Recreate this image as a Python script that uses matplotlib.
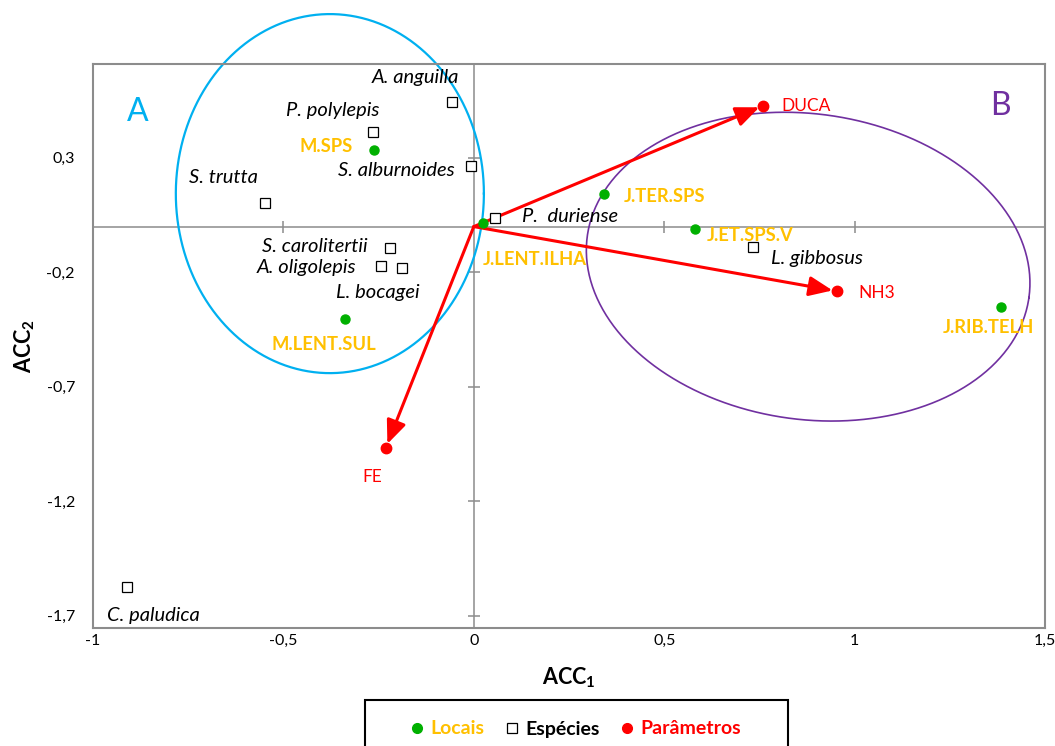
import numpy as np
import matplotlib
matplotlib.use("Agg")
import matplotlib.pyplot as plt
from matplotlib.lines import Line2D
from matplotlib.patches import Rectangle

plt.rcParams['font.family'] = ['Lato', 'DejaVu Sans']
plt.rcParams['mathtext.fontset'] = 'custom'
plt.rcParams['mathtext.bf'] = 'Lato:bold'
plt.rcParams['mathtext.rm'] = 'Lato'

# ---- data -------------------------------------------------------------
species = ['A. anguilla', 'P. polylepis', 'S. alburnoides', 'S. trutta',
           'S. carolitertii', 'A. oligolepis', 'L. bocagei', 'P.  duriense',
           'L. gibbosus', 'C. paludica']
species_x = [-0.058, -0.264, -0.008, -0.548, -0.220, -0.244, -0.188, 0.056, 0.734, -0.911]
species_y = [0.543, 0.414, 0.264, 0.101, -0.095, -0.172, -0.183, 0.036, -0.091, -1.573]

sites = ['M.SPS', 'M.LENT.SUL', 'J.LENT.ILHA', 'J.TER.SPS', 'J.ET.SPS.V', 'J.RIB.TELH']
site_x = [-0.262, -0.337, 0.023, 0.343, 0.582, 1.384]
site_y = [0.334, -0.404, 0.014, 0.141, -0.012, -0.350]

params = ['DUCA', 'NH3', 'FE']
param_x = [0.760, 0.953, -0.231]
param_y = [0.528, -0.282, -0.966]

x_ticks = [-1, -0.5, 0, 0.5, 1, 1.5]
y_ticks = [0.3, -0.2, -0.7, -1.2, -1.7]

# label offsets in pixels (right, up)
species_off = [(-36, 25), (-41, 21), (-74, -4), (-42, 26), (-75, 2),
               (-74, -2), (-24, -24), (75, 2), (64, -11), (26, -29)]
site_off = [(-48, 4), (-22, -25), (52, -36), (60, -2), (55, -6), (-12, -21)]
param_off = [(43, 0), (40, -2), (-14, -29)]

# ---- style ------------------------------------------------------------
GRAY = '#8c8c8c'
GREEN = '#00b000'
ORANGE = '#ffc000'
RED = '#ff0000'
BLUE = '#00b0f0'
PURPLE = '#7030a0'

fig = plt.figure(figsize=(10.55, 7.46), dpi=100)
ax = fig.add_axes([93 / 1055, 1 - 628 / 746, 952 / 1055, 564 / 746])
ax.set_xlim(-1, 1.5)
ax.set_ylim(-1.753, 0.71)

for s in ax.spines.values():
    s.set_color(GRAY)
    s.set_linewidth(1.5)

ax.set_xticks(x_ticks)
ax.set_xticklabels([f'{v:g}'.replace('.', ',') for v in x_ticks])
ax.set_yticks(y_ticks)
ax.set_yticklabels([f'{v:g}'.replace('.', ',') for v in y_ticks])
ax.tick_params(axis='both', length=0, labelsize=11.5)
ax.tick_params(axis='y', pad=13)
ax.tick_params(axis='x', pad=4)

# zero axes with crossing tick marks
ax.axhline(0, color=GRAY, lw=1.1, zorder=1)
ax.axvline(0, color=GRAY, lw=1.1, zorder=1)
ax.plot([-0.5, 0.5, 1.0], [0, 0, 0], ls='none', marker='|', ms=8,
        mew=1.1, color=GRAY, zorder=1)
ax.plot([0] * len(y_ticks), y_ticks, ls='none', marker='_', ms=8,
        mew=1.1, color=GRAY, zorder=1)

ax.set_xlabel(r'$\mathbf{ACC_1}$', fontsize=15.5, labelpad=13)
ax.set_ylabel(r'$\mathbf{ACC_2}$', fontsize=15.5, labelpad=7)


def draw_ellipse(cx, cy, w, h, angle, **kw):
    t = np.linspace(0, 2 * np.pi, 500)
    c = ax.transData.transform((cx, cy))
    sx = (ax.transData.transform((cx + w / 2, cy)) - c)[0]
    sy = (ax.transData.transform((cx, cy + h / 2)) - c)[1]
    th = np.radians(angle)
    dx = sx * np.cos(t) * np.cos(th) - sy * np.sin(t) * np.sin(th)
    dy = sx * np.cos(t) * np.sin(th) + sy * np.sin(t) * np.cos(th)
    pts = ax.transData.inverted().transform(np.column_stack([c[0] + dx, c[1] + dy]))
    ax.plot(pts[:, 0], pts[:, 1], clip_on=False, zorder=2, **kw)


draw_ellipse(-0.378, 0.144, 0.809, 1.568, 0, color=BLUE, lw=1.6)
draw_ellipse(0.878, -0.175, 1.171, 1.334, -8, color=PURPLE, lw=1.2)

ax.text(0.047, 0.915, 'A', color=BLUE, fontsize=23, transform=ax.transAxes,
        ha='center', va='center')
ax.text(0.953, 0.926, 'B', color=PURPLE, fontsize=23, transform=ax.transAxes,
        ha='center', va='center')

# environmental vectors
for x, y in zip(param_x, param_y):
    ax.annotate('', xy=(x, y), xytext=(0, 0),
                arrowprops=dict(arrowstyle='-|>,head_length=0.95,head_width=0.4',
                                color=RED, lw=2.2, shrinkA=0, shrinkB=3,
                                mutation_scale=15), zorder=3)

ax.plot(species_x, species_y, ls='none', marker='s', ms=6.5, mfc='white',
        mec='black', mew=0.9, zorder=4)
ax.plot(site_x, site_y, ls='none', marker='o', ms=6.5, color=GREEN, zorder=5)
ax.plot(param_x, param_y, ls='none', marker='o', ms=7.5, color=RED, zorder=5)

for name, x, y, off in zip(species, species_x, species_y, species_off):
    ax.annotate(name, (x, y), xytext=off, textcoords='offset pixels',
                ha='center', va='center', fontsize=14.5, style='italic',
                color='black', zorder=6)
for name, x, y, off in zip(sites, site_x, site_y, site_off):
    ax.annotate(name, (x, y), xytext=off, textcoords='offset pixels',
                ha='center', va='center', fontsize=13.2, fontweight='bold',
                color=ORANGE, zorder=6)
for name, x, y, off in zip(params, param_x, param_y, param_off):
    ax.annotate(name, (x, y), xytext=off, textcoords='offset pixels',
                ha='center', va='center', fontsize=12.5, color=RED, zorder=6)

# legend
handles = [
    Line2D([], [], ls='none', marker='o', ms=7, color=GREEN),
    Line2D([], [], ls='none', marker='s', ms=7, mfc='white', mec='black', mew=0.9),
    Line2D([], [], ls='none', marker='o', ms=7, color=RED),
]
leg = fig.legend(handles, ['Locais', 'Espécies', 'Parâmetros'], ncol=3,
                 loc='center', bbox_to_anchor=(575 / 1055, 1 - 729 / 746),
                 frameon=False, handlelength=0.8, handletextpad=0.3,
                 columnspacing=1.0, prop={'weight': 'bold', 'size': 14})
for txt, col in zip(leg.get_texts(), [ORANGE, 'black', RED]):
    txt.set_color(col)
fig.add_artist(Rectangle((365 / 1055, 1 - 762 / 746), 423 / 1055, 62 / 746,
                         transform=fig.transFigure, fill=False,
                         edgecolor='black', lw=1.5, clip_on=False))

fig.savefig('out.png', dpi=100)
